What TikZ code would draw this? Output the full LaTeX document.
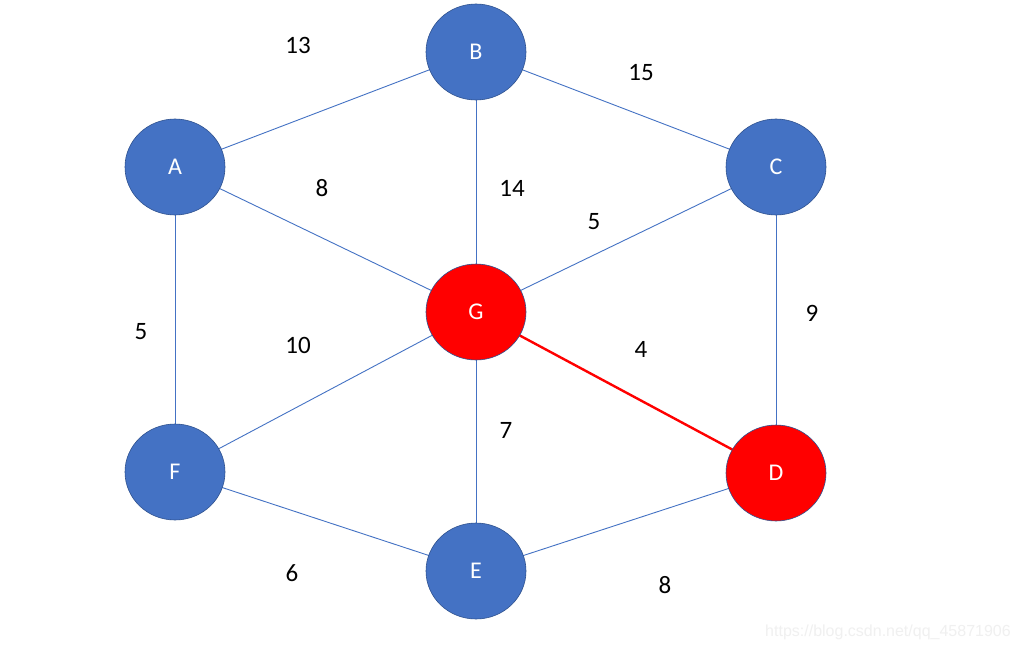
\documentclass[tikz,border=0pt]{standalone}
\usepackage{fontspec}
\setmainfont{Carlito}
\newfontfamily\wmfont{Liberation Sans}
\usetikzlibrary{shapes.geometric}
\definecolor{nodeblue}{HTML}{4472C4}
\definecolor{rimblue}{HTML}{2F528F}
\definecolor{hotred}{HTML}{FF0000}
\definecolor{wmgray}{HTML}{F0F0F0}
\tikzset{
  vtx/.style={ellipse, minimum width=100pt, minimum height=96pt, inner sep=0pt,
    fill=nodeblue, draw=rimblue, line width=0.6pt, text=white, font=\fontsize{24}{24}\selectfont},
  hot/.style={vtx, fill=hotred},
  edge/.style={draw=nodeblue, line width=0.9pt},
  hotedge/.style={draw=hotred, line width=2.4pt},
  wt/.style={font=\fontsize{25}{25}\selectfont, text=black, inner sep=0pt}
}
\begin{document}
\begin{tikzpicture}[x=1pt,y=-1pt]
\useasboundingbox (0,0) rectangle (1019,650);
\fill[white] (0,0) rectangle (1019,650);
% edges drawn first between coordinates at node centres
\coordinate (a) at (175,167);
\coordinate (b) at (476,52);
\coordinate (c) at (776,167);
\coordinate (g) at (476,312);
\coordinate (f) at (175,472);
\coordinate (d) at (776,473);
\coordinate (e) at (476,571);
\draw[edge] (a) -- (b);
\draw[edge] (b) -- (c);
\draw[edge] (a) -- (g);
\draw[edge] (b) -- (g);
\draw[edge] (c) -- (g);
\draw[edge] (c) -- (d);
\draw[edge] (a) -- (f);
\draw[edge] (f) -- (g);
\draw[edge] (g) -- (e);
\draw[edge] (f) -- (e);
\draw[edge] (e) -- (d);
\draw[hotedge] (g) -- (d);
% nodes
\node[vtx] (A) at (a) {A};
\node[vtx] (B) at (b) {B};
\node[vtx] (C) at (c) {C};
\node[hot] (G) at (g) {G};
\node[vtx] (F) at (f) {F};
\node[hot] (D) at (d) {D};
\node[vtx] (E) at (e) {E};
% weights
\node[wt] (w1) at (298,45) {13};
\node[wt] (w2) at (641,73) {15};
\node[wt] (w3) at (322,188) {8};
\node[wt] (w4) at (512,188) {14};
\node[wt] (w5) at (594,222) {5};
\node[wt] (w6) at (812,313) {9};
\node[wt] (w7) at (141,332) {5};
\node[wt] (w8) at (298,345) {10};
\node[wt] (w9) at (641,349) {4};
\node[wt] (w10) at (506,430) {7};
\node[wt] (w11) at (292,573) {6};
\node[wt] (w12) at (665,585) {8};
% watermark
\node[font=\wmfont\fontsize{16}{16}\selectfont, text=wmgray, inner sep=0pt] (wm) at (888,632) {https://blog.csdn.net/qq\_45871906};
\end{tikzpicture}
\end{document}
